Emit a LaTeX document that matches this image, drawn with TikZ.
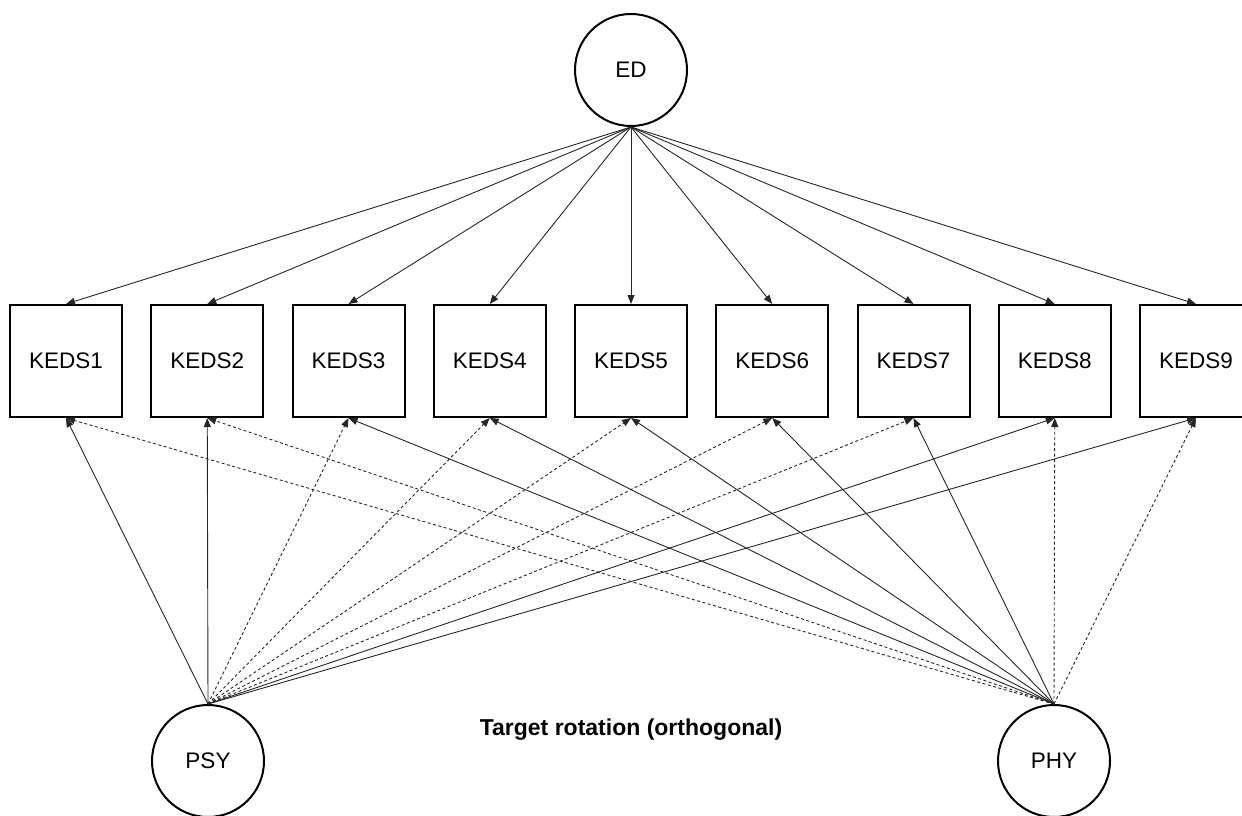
\documentclass[tikz,border=0pt]{standalone}
\usepackage{fontspec}
\setmainfont{Liberation Sans}
\usepackage{tikz}
\usetikzlibrary{arrows.meta, positioning}

\tikzset{
  latent/.style={draw, circle, line width=2pt, minimum size=112pt, inner sep=0pt, font=\fontsize{22.5}{27}\selectfont},
  item/.style={draw, rectangle, line width=2pt, minimum size=112pt, inner sep=0pt, font=\fontsize{22.5}{27}\selectfont},
  load/.style={-{Triangle[length=9pt, width=7pt]}, line width=0.9pt, black!85},
  crossload/.style={load, dash pattern=on 3pt off 2.5pt}
}

\begin{document}
\begin{tikzpicture}[x=1pt, y=-1pt]
  \useasboundingbox (0, 0) rectangle (1242, 816);

  % General factor
  \node[latent] (ed) at (631, 70) {ED};

  % Indicators
  \foreach \i in {1,...,9} {
    \node[item] (keds\i) at ({66 + 141.25*(\i-1)}, 361) {KEDS\i};
    \draw[load] (ed.south) -- (keds\i.north);
  }

  % Specific factors
  \node[latent] (psy) at (208, 761) {PSY};
  \node[latent] (phy) at (1054, 761) {PHY};

  % Target loadings (solid) and cross-loadings (dashed)
  \foreach \i in {1,2,8,9} {
    \draw[load] (psy.north) -- (keds\i.south);
    \draw[crossload] (phy.north) -- (keds\i.south);
  }
  \foreach \i in {3,...,7} {
    \draw[crossload] (psy.north) -- (keds\i.south);
    \draw[load] (phy.north) -- (keds\i.south);
  }

  % Caption
  \node[font=\fontsize{23}{28}\selectfont\bfseries] (cap) at (631, 730) {Target rotation (orthogonal)};
\end{tikzpicture}
\end{document}
